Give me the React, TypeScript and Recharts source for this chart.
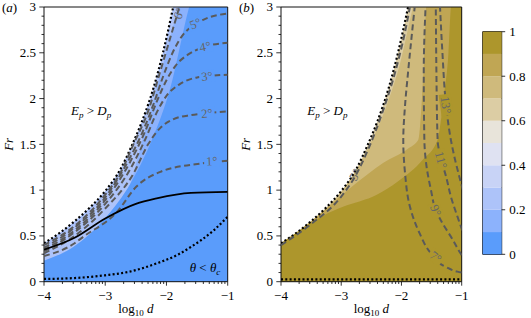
import React from "react";
import {
  ComposedChart,
  Area,
  Line,
  XAxis,
  YAxis,
  ReferenceArea,
  ReferenceDot,
  BarChart,
  Bar,
} from "recharts";

// ---- data (log10 d, Fr) ----
const boundary = [[-4, 0.42], [-3.75, 0.53], [-3.5, 0.66], [-3.25, 0.81], [-3, 0.99], [-2.75, 1.23], [-2.57, 1.48], [-2.4, 1.75], [-2.21, 2.12], [-2.05, 2.52], [-1.89, 3.0], [-1.8, 3.3]];

// panel (a)
const midBlueA = [[-4, 0.23], [-3.52, 0.38], [-2.98, 0.71], [-2.59, 1.07], [-2.4, 1.53], [-2.16, 2.11], [-1.81, 3.0], [-1.7, 3.3]];
const mainBlueA = [[-4, 0.23], [-3.52, 0.38], [-2.98, 0.71], [-2.59, 1.07], [-2.25, 1.53], [-1.94, 2.11], [-1.63, 3.0], [-1.5, 3.3]];
const solidA = [[-4, 0.35], [-3.5, 0.48], [-3, 0.69], [-2.5, 0.85], [-2.16, 0.91], [-1.6, 0.97], [-1, 0.98]];
const lowDotA = [[-4, 0.03], [-3.5, 0.04], [-3, 0.07], [-2.6, 0.11], [-2.16, 0.2], [-1.8, 0.3], [-1.6, 0.38], [-1.23, 0.56], [-1, 0.71]];
const deg1A = [[-4, 0.28], [-3.5, 0.42], [-3.36, 0.49], [-2.81, 0.76], [-2.49, 1.04], [-2.1, 1.2], [-1.45, 1.29], [-1, 1.32]];
const deg2A = [[-4, 0.31], [-3.5, 0.5], [-3, 0.8], [-2.54, 1.18], [-2.3, 1.5], [-2.1, 1.68], [-1.9, 1.77], [-1.6, 1.82], [-1.34, 1.84], [-1, 1.86]];
const deg3A = [[-4, 0.33], [-3.5, 0.54], [-3, 0.85], [-2.6, 1.22], [-2.35, 1.55], [-2.15, 1.86], [-2, 2.03], [-1.8, 2.15], [-1.5, 2.23], [-1, 2.26]];
const deg4A = [[-4, 0.35], [-3.5, 0.56], [-3, 0.89], [-2.6, 1.3], [-2.35, 1.64], [-2.15, 1.98], [-2, 2.2], [-1.85, 2.36], [-1.65, 2.48], [-1.4, 2.56], [-1, 2.61]];
const deg5A = [[-4, 0.37], [-3.5, 0.59], [-3, 0.92], [-2.6, 1.35], [-2.4, 1.62], [-2.2, 1.96], [-2.05, 2.25], [-1.9, 2.5], [-1.75, 2.68], [-1.6, 2.78], [-1.4, 2.86], [-1, 2.93]];
const deg6A = [[-4, 0.4], [-3.5, 0.61], [-3, 0.95], [-2.75, 1.19], [-2.54, 1.5], [-2.3, 1.86], [-2.1, 2.3], [-1.94, 2.66], [-1.82, 2.93], [-1.77, 3.05]];
const tagsA: [string, number, number][] = [["1°", -1.26, 1.32], ["2°", -1.34, 1.84], ["3°", -1.34, 2.245], ["4°", -1.37, 2.57], ["5°", -1.53, 2.82], ["6°", -1.8, 2.93]];

// panel (b)
const band7B = [[-4, 0.42], [-3.5, 0.66], [-3, 0.98], [-2.6, 1.4], [-2.25, 1.92], [-2.05, 2.32], [-1.81, 3.0], [-1.7, 3.3]];
const band8B = [[-4, 0.42], [-3.5, 0.66], [-3.3, 0.77], [-2.8, 1.05], [-2.3, 1.3], [-1.9, 1.45], [-1.72, 1.55], [-1.66, 2.0], [-1.62, 2.5], [-1.59, 3.0], [-1.5, 3.3]];
const band9B = [[-4, 0.42], [-3.75, 0.53], [-3.6, 0.6], [-3.3, 0.72], [-2.96, 0.82], [-2.41, 0.95], [-2.05, 1.1], [-1.65, 1.33], [-1.4, 1.55], [-1.3, 2.0], [-1.22, 2.5], [-1.18, 3.0], [-1.1, 3.3]];
const deg5B = [[-4, 0.4], [-3.5, 0.63], [-3, 0.93], [-2.77, 1.15], [-2.55, 1.45], [-2.3, 1.88], [-2.1, 2.3], [-1.95, 2.7], [-1.86, 3.0]];
const deg7B = [[-1, 0.1], [-1.07, 0.11], [-1.26, 0.16], [-1.51, 0.31], [-1.7, 0.53], [-1.86, 0.82], [-1.94, 1.18], [-1.97, 1.55], [-1.94, 1.93], [-1.89, 2.29], [-1.78, 3.0]];
const deg9B = [[-1, 0.29], [-1.02, 0.31], [-1.15, 0.46], [-1.32, 0.64], [-1.43, 0.78], [-1.51, 1.0], [-1.59, 1.29], [-1.62, 1.55], [-1.63, 2.29], [-1.6, 3.0]];
const deg11B = [[-0.99, 0.56], [-1.07, 0.71], [-1.18, 0.93], [-1.26, 1.15], [-1.34, 1.33], [-1.4, 1.55], [-1.42, 2.3], [-1.43, 3.0]];
const deg13B = [[-0.98, 1.0], [-1.04, 1.15], [-1.12, 1.36], [-1.18, 1.55], [-1.26, 1.93], [-1.32, 2.5], [-1.36, 3.0]];
const bottomDotB = [[-4, 0.025], [-1, 0.025]];
const tagsB: [string, number, number][] = [["5°", -2.77, 1.17], ["7°", -1.43, 0.27], ["9°", -1.43, 0.78], ["11°", -1.34, 1.33], ["13°", -1.26, 1.93]];

// colour bar
const cbLevels = [0, 0.1, 0.2, 0.3, 0.4, 0.5, 0.6, 0.7, 0.8, 0.9, 1];
const cbColors = ["#5a9cfb", "#8cb2fc", "#adc3f9", "#c8d3f6", "#dfe2f2", "#e8e4da", "#dccda4", "#cfba7c", "#c0a654", "#ad962c"];
const cbTicks = [0, 0.2, 0.4, 0.6, 0.8, 1];
const cbTickLabels = ["0", "0.2", "0.4", "0.6", "0.8", "1"];

// axes
const xMajor = [-4, -3, -2, -1];
const xMajorLabels = ["−4", "−3", "−2", "−1"];
const yMajor = [0, 0.5, 1, 1.5, 2, 2.5, 3];
const yMajorLabels = ["0", "0.5", "1", "1.5", "2", "2.5", "3"];

const xMinor: number[] = [];
[-4, -3, -2].forEach((d) => {
  for (let k = 2; k <= 9; k++) xMinor.push(d + Math.log10(k));
});
const yMinor: number[] = [];
for (let i = 1; i < 30; i++) if (i % 5 !== 0) yMinor.push(i / 10);

const xTicks = [...xMajor, ...xMinor].sort((a, b) => a - b);
const yTicks = [...yMajor, ...yMinor].sort((a, b) => a - b);

const FONT = "Liberation Serif";
const FS = 13;
const GREY = "#5a5a5a";
const txt = { fontFamily: FONT, fontSize: FS };

const rows = (c: number[][]) => c.map(([x, y]) => ({ x, y }));
const toRight = (c: number[][]) => {
  const last = c[c.length - 1];
  return rows(last[0] < -1 ? [...c, [-1, last[1]]] : c);
};
const findIdx = (arr: number[], v: number) => arr.findIndex((m) => Math.abs(m - v) < 1e-6);

const XTick = (props: any) => {
  const { x, y, payload } = props;
  const i = findIdx(xMajor, payload.value);
  return (
    <g>
      <line x1={x} x2={x} y1={y} y2={y + (i >= 0 ? 4 : 2.3)} stroke="#000" strokeWidth={0.8} />
      {i >= 0 && (
        <text x={x} y={y + 18} textAnchor="middle" style={txt} fill="#000">
          {xMajorLabels[i]}
        </text>
      )}
    </g>
  );
};

const YTick = (props: any) => {
  const { x, y, payload } = props;
  const i = findIdx(yMajor, payload.value);
  return (
    <g>
      <line x1={x} x2={x - (i >= 0 ? 4.7 : 2.5)} y1={y} y2={y} stroke="#000" strokeWidth={0.8} />
      {i >= 0 && (
        <text x={x - 8} y={y + 4.3} textAnchor="end" style={txt} fill="#000">
          {yMajorLabels[i]}
        </text>
      )}
    </g>
  );
};

const CbTick = (props: any) => {
  const { x, y, payload } = props;
  const i = findIdx(cbTicks, payload.value);
  return (
    <g>
      <line x1={x} x2={x + 3.5} y1={y} y2={y} stroke="#000" strokeWidth={0.8} />
      <text x={x + 7.5} y={y + 4.3} textAnchor="start" style={txt} fill="#000">
        {cbTickLabels[i]}
      </text>
    </g>
  );
};

const xLabel = (p: any) => {
  const vb = p.viewBox;
  return (
    <text x={vb.x + vb.width / 2} y={vb.y + 31} textAnchor="middle" style={txt} fill="#000">
      log
      <tspan style={{ fontSize: 9 }} dy={3}>10</tspan>
      <tspan dy={-3} style={{ fontStyle: "italic" }}> d</tspan>
    </text>
  );
};

const yLabel = (panel: string) => (p: any) => {
  const vb = p.viewBox;
  const cx = vb.x - 2;
  const cy = vb.y + vb.height / 2;
  return (
    <g>
      <text x={cx} y={cy} textAnchor="middle" dy="0.35em" style={{ ...txt, fontStyle: "italic" }} transform={`rotate(-90 ${cx} ${cy})`} fill="#000">
        Fr
      </text>
      <text x={vb.x - 8} y={12} style={txt} fill="#000">
        (<tspan style={{ fontStyle: "italic" }}>{panel}</tspan>)
      </text>
    </g>
  );
};

const tagShape = (text: string, rot: number, bg: string) => (p: any) => {
  const w = text.length * 6.2 + 3;
  return (
    <g transform={`rotate(${rot} ${p.cx} ${p.cy})`}>
      {bg !== "none" && <rect x={p.cx - w / 2} y={p.cy - 6} width={w} height={12} fill={bg} />}
      <text x={p.cx} y={p.cy} dy="0.35em" textAnchor="middle" style={{ fontFamily: FONT, fontSize: 12.5 }} fill="#666">
        {text}
      </text>
    </g>
  );
};

const epText = (p: any) => (
  <text x={p.cx} y={p.cy} dy="0.35em" textAnchor="middle" style={txt} fill="#000">
    <tspan style={{ fontStyle: "italic" }}>E</tspan>
    <tspan style={{ fontStyle: "italic", fontSize: 9 }} dy={3}>p</tspan>
    <tspan dy={-3}> &gt; </tspan>
    <tspan style={{ fontStyle: "italic" }}>D</tspan>
    <tspan style={{ fontStyle: "italic", fontSize: 9 }} dy={3}>p</tspan>
  </text>
);

const thetaText = (p: any) => (
  <text x={p.cx} y={p.cy} textAnchor="end" style={txt} fill="#000">
    <tspan style={{ fontStyle: "italic" }}>θ</tspan>
    <tspan> &lt; </tspan>
    <tspan style={{ fontStyle: "italic" }}>θ</tspan>
    <tspan style={{ fontStyle: "italic", fontSize: 9 }} dy={3}>c</tspan>
  </text>
);

interface PanelProps {
  panel: string;
  marginLeft: number;
  marginRight: number;
  fills: { curve: number[][]; color: string }[];
  dashed: { curve: number[][]; kind: "monotone" | "monotoneY" }[];
  dotted: number[][][];
  solid: number[][][];
  tags: [string, number, number][];
  tagRot: number[];
  tagBg: string[];
  theta?: boolean;
}

const Panel = (props: PanelProps) => (
  <ComposedChart
    width={240 + props.marginLeft - 10}
    height={318}
    margin={{ top: 7, right: props.marginRight, bottom: 0, left: props.marginLeft }}
  >
    <XAxis
      type="number"
      dataKey="x"
      domain={[-4, -1]}
      allowDataOverflow
      ticks={xTicks}
      interval={0}
      tick={<XTick />}
      tickSize={0}
      tickMargin={0}
      tickLine={false}
      axisLine={false}
      height={36.3}
      label={{ content: xLabel }}
    />
    <YAxis
      type="number"
      domain={[0, 3]}
      allowDataOverflow
      ticks={yTicks}
      interval={0}
      tick={<YTick />}
      tickSize={0}
      tickMargin={0}
      tickLine={false}
      axisLine={false}
      width={34}
      label={{ content: yLabel(props.panel) }}
    />
    {props.fills.map((f, i) => (
      <Area
        key={"f" + i}
        data={toRight(f.curve)}
        dataKey="y"
        type="monotone"
        fill={f.color}
        fillOpacity={1}
        stroke="none"
        isAnimationActive={false}
        dot={false}
        activeDot={false}
      />
    ))}
    {props.dotted.map((c, i) => (
      <Line
        key={"o" + i}
        data={rows(c)}
        dataKey="y"
        type="monotone"
        stroke="#000"
        strokeWidth={2.2}
        strokeDasharray="2 2.3"
        dot={false}
        activeDot={false}
        isAnimationActive={false}
      />
    ))}
    {props.dashed.map((d, i) => (
      <Line
        key={"d" + i}
        data={rows(d.kind === "monotoneY" ? [...d.curve].sort((a, b) => a[1] - b[1]) : d.curve)}
        dataKey="y"
        type={d.kind}
        stroke={GREY}
        strokeWidth={2}
        strokeDasharray="6 3.5"
        dot={false}
        activeDot={false}
        isAnimationActive={false}
      />
    ))}
    {props.solid.map((c, i) => (
      <Line
        key={"s" + i}
        data={rows(c)}
        dataKey="y"
        type="monotone"
        stroke="#000"
        strokeWidth={1.8}
        dot={false}
        activeDot={false}
        isAnimationActive={false}
      />
    ))}
    {props.tags.map(([t, x, y], i) => (
      <ReferenceDot key={"t" + i} x={x} y={y} r={0} shape={tagShape(t, props.tagRot[i], props.tagBg[i])} />
    ))}
    <ReferenceDot x={-3.23} y={1.87} r={0} shape={epText} />
    {props.theta && <ReferenceDot x={-1.12} y={0.11} r={0} shape={thetaText} />}
    <ReferenceArea x1={-4} x2={-1} y1={0} y2={3} fill="none" stroke="#111" strokeWidth={1} ifOverflow="visible" />
  </ComposedChart>
);

const cbRow: Record<string, number | string> = { name: "cb" };
cbColors.forEach((_, i) => {
  cbRow["c" + i] = cbLevels[i + 1] - cbLevels[i];
});

const ColorBar = () => (
  <BarChart
    width={61}
    height={318}
    data={[cbRow]}
    margin={{ top: 31.7, right: 4.3, bottom: 63.7, left: 12.7 }}
    barCategoryGap={0}
    barGap={0}
  >
    <XAxis dataKey="name" hide />
    <YAxis
      type="number"
      orientation="right"
      domain={[0, 1]}
      ticks={cbTicks}
      interval={0}
      tick={<CbTick />}
      tickSize={0}
      tickMargin={0}
      tickLine={false}
      axisLine={false}
      width={25}
    />
    {cbColors.map((c, i) => (
      <Bar key={i} dataKey={"c" + i} stackId="cb" fill={c} isAnimationActive={false} />
    ))}
    <ReferenceArea y1={0} y2={1} fill="none" stroke="#000" strokeWidth={1} ifOverflow="visible" />
  </BarChart>
);

export default function App() {
  return (
    <div style={{ position: "absolute", left: 0, top: 0, width: 531, height: 318, background: "#fff", overflow: "hidden", fontFamily: FONT }}>
      <div style={{ position: "absolute", left: 0, top: 0 }}>
        <Panel
          panel="a"
          marginLeft={10}
          marginRight={12.3}
          fills={[
            { curve: boundary, color: cbColors[2] },
            { curve: midBlueA, color: cbColors[1] },
            { curve: mainBlueA, color: cbColors[0] },
          ]}
          dotted={[boundary.slice(0, -1), lowDotA]}
          dashed={[deg1A, deg2A, deg3A, deg4A, deg5A, deg6A].map((c) => ({ curve: c, kind: "monotone" as const }))}
          solid={[solidA]}
          tags={tagsA}
          tagRot={[-2, -4, -6, -10, -22, -68]}
          tagBg={[cbColors[0], cbColors[0], cbColors[0], cbColors[0], cbColors[0], "none"]}
          theta
        />
      </div>
      <div style={{ position: "absolute", left: 230, top: 0 }}>
        <Panel
          panel="b"
          marginLeft={17}
          marginRight={15.3}
          fills={[
            { curve: boundary, color: cbColors[6] },
            { curve: band7B, color: cbColors[7] },
            { curve: band8B, color: cbColors[8] },
            { curve: band9B, color: cbColors[9] },
          ]}
          dotted={[boundary.slice(0, -1), bottomDotB]}
          dashed={[
            { curve: deg5B, kind: "monotone" },
            { curve: deg7B, kind: "monotoneY" },
            { curve: deg9B, kind: "monotoneY" },
            { curve: deg11B, kind: "monotoneY" },
            { curve: deg13B, kind: "monotoneY" },
          ]}
          solid={[]}
          tags={tagsB}
          tagRot={[-58, 38, 68, 75, 82]}
          tagBg={["none", cbColors[9], cbColors[9], cbColors[9], cbColors[9]]}
        />
      </div>
      <div style={{ position: "absolute", left: 470, top: 0 }}>
        <ColorBar />
      </div>
    </div>
  );
}
